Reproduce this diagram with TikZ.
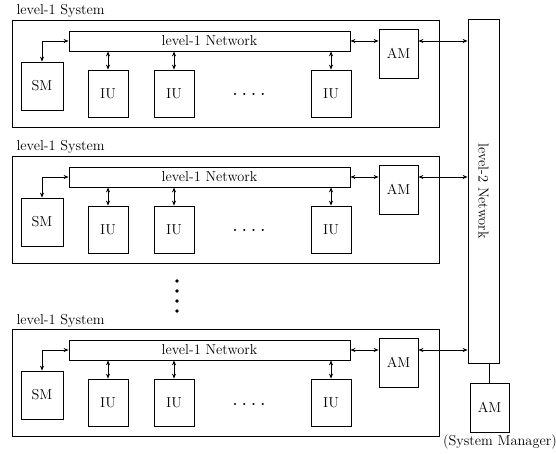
\documentclass[tikz,border=0pt]{standalone}
\usepackage{tikz}
\usetikzlibrary{arrows.meta,positioning}
\tikzset{
  every node/.style={font=\fontsize{14.4}{16}\selectfont},
  unit/.style={draw,line width=0.8pt,inner sep=0pt,minimum width=40pt,minimum height=47pt},
  bus/.style={draw,line width=0.8pt,inner sep=0pt,minimum width=281pt,minimum height=20pt},
  link/.style={{Stealth[length=5pt,width=4pt]}-{Stealth[length=5pt,width=4pt]},line width=0.8pt}
}
% one level-1 system: #1 = name suffix, #2 = vertical offset
\newcommand{\lsys}[2]{%
  \draw[line width=0.8pt] (12,{20+#2}) rectangle (439,{127+#2});
  \node[anchor=base west] (lab#1) at (13,{15+#2}) {level-1 System};
  \node[bus] (net#1) at (209.5,{41+#2}) {level-1 Network};
  \node[unit,minimum width=42pt,minimum height=48pt] (sm#1) at (42,{86+#2}) {SM};
  \node[unit] (iua#1) at (108,{93.5+#2}) {IU};
  \node[unit] (iub#1) at (174,{93.5+#2}) {IU};
  \node[unit] (iuc#1) at (331,{93.5+#2}) {IU};
  \node[anchor=base] (dots#1) at (249,{96+#2}) {\textbf{.\,\,.\,\,.\,\,.}};
  \node[unit,minimum width=39pt,minimum height=49pt] (am#1) at (398.5,{53.5+#2}) {AM};
  \draw[link] (sm#1.north) |- (net#1.west);
  \foreach \iu in {iua,iub,iuc}
    \draw[link] (\iu#1.north) -- (\iu#1.north |- net#1.south);
  \draw[link] (net#1.east) -- (net#1.east -| am#1.west);
  \draw[link] (am#1.east |- net#1.east) -- (net#1.east -| l2.west);
}

\begin{document}
\begin{tikzpicture}[x=1pt,y=-1pt]
\useasboundingbox (0,0) rectangle (556,454);
\node[draw,line width=0.8pt,inner sep=0pt,minimum width=31pt,minimum height=344pt] (l2) at (483.5,191) {\rotatebox{-90}{level-2 Network}};
\lsys{a}{0}
\lsys{b}{136}
\lsys{c}{309}
\foreach \yy in {281,291,301,311}
  \fill (177,\yy) circle[radius=1.8pt];
\node[unit,minimum width=39pt,minimum height=49pt] (sysam) at (489.5,407.5) {AM};
\draw[line width=0.8pt] (sysam.north) -- (sysam.north |- l2.south);
\node[anchor=base] (smlab) at (500,445) {(System Manager)};
\end{tikzpicture}
\end{document}
